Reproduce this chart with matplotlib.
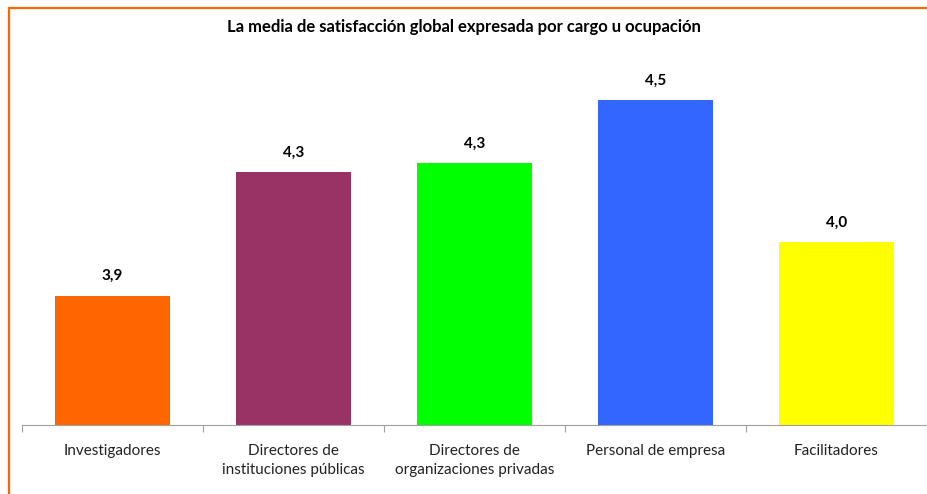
import matplotlib.pyplot as plt
from matplotlib.patches import Rectangle

categories = ['Investigadores', 'Directores de\ninstituciones públicas',
              'Directores de\norganizaciones privadas', 'Personal de empresa',
              'Facilitadores']
values = [3.85, 4.28, 4.31, 4.53, 4.035]
colors = ['#FF6600', '#993366', '#00FF00', '#3366FF', '#FFFF00']
title = 'La media de satisfacción global expresada por cargo u ocupación'

plt.rcParams['font.family'] = ['Lato', 'DejaVu Sans']

W, H = 928, 494
fig = plt.figure(figsize=(W / 100, H / 100), dpi=100)

# plot area in pixels: left 22, right 927, baseline 425, top 80
left, right, bottom, top = 22, 927, 425, 80
ax = fig.add_axes([left / W, 1 - bottom / H, (right - left) / W, (bottom - top) / H])

x = range(len(categories))
ax.bar(x, values, width=0.63, color=colors, zorder=2)
ax.set_xlim(-0.5, len(categories) - 0.5)
ax.set_ylim(3.4, 4.6)

for i, v in enumerate(values):
    ax.annotate(f'{v:.1f}'.replace('.', ','), (i, v), xytext=(0, 9),
                textcoords='offset points', ha='center', va='bottom',
                fontsize=11, fontweight='bold', color='black', annotation_clip=False)

for s in ['top', 'right', 'left']:
    ax.spines[s].set_visible(False)
ax.spines['bottom'].set_color('#A0A0A0')
ax.set_yticks([])
ax.set_xticks([i - 0.5 for i in range(len(categories) + 1)], minor=False)
ax.set_xticklabels([''] * (len(categories) + 1))
ax.tick_params(axis='x', length=5, color='#A0A0A0', direction='out')
for i, c in enumerate(categories):
    ax.text(i, -0.055, c, transform=ax.get_xaxis_transform(), ha='center', va='top',
            fontsize=11, color='#222222', linespacing=1.45)

fig.text(0.5, 1 - 27 / H, title, ha='center', va='center',
         fontsize=12, fontweight='bold')

border = Rectangle((9.5 / W, -0.1), 1.2, 1 - 8.5 / H + 0.1, transform=fig.transFigure,
                   fill=False, edgecolor='#FF6600', linewidth=1.6, clip_on=False)
fig.patches.append(border)

fig.savefig('out.png', dpi=100)
